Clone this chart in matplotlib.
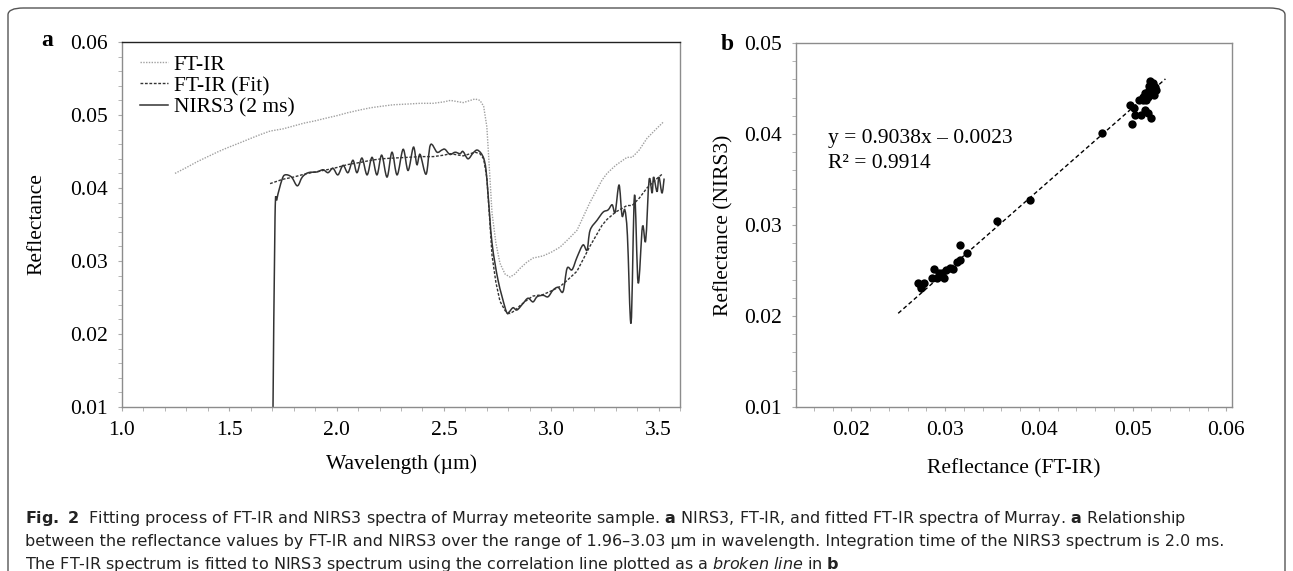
import matplotlib
matplotlib.use("Agg")
import matplotlib.pyplot as plt
from matplotlib.patches import FancyBboxPatch, PathPatch
from matplotlib.path import Path
from matplotlib.ticker import MultipleLocator

plt.rcParams['font.family'] = ['Liberation Serif', 'DejaVu Serif']
plt.rcParams['mathtext.fontset'] = 'dejavusans'

# FT-IR spectrum (wavelength um, reflectance)
ftir_w = [1.247, 1.30, 1.35, 1.40, 1.45, 1.49, 1.55, 1.60, 1.643, 1.69, 1.75, 1.80, 1.85, 1.90,
          1.955, 2.00, 2.05, 2.11, 2.16, 2.21, 2.263, 2.33, 2.39, 2.45, 2.50, 2.53, 2.59, 2.645,
          2.668, 2.685, 2.70, 2.715, 2.724, 2.742, 2.761, 2.785, 2.808, 2.83, 2.855, 2.885, 2.915,
          2.962, 3.00, 3.041, 3.08, 3.12, 3.18, 3.237, 3.26, 3.30, 3.353, 3.377, 3.41, 3.446,
          3.493, 3.521]
ftir_r = [0.0420, 0.0428, 0.0436, 0.0443, 0.0450, 0.0455, 0.0462, 0.0468, 0.0473, 0.0478, 0.0481,
          0.0485, 0.0489, 0.0492, 0.0496, 0.0499, 0.0503, 0.0507, 0.0510, 0.0512, 0.0514, 0.0515,
          0.0516, 0.0516, 0.0518, 0.0520, 0.0517, 0.0522, 0.0520, 0.0512, 0.0484, 0.0411, 0.0366,
          0.0325, 0.0297, 0.0282, 0.0278, 0.0282, 0.0290, 0.0298, 0.0304, 0.0307, 0.0312, 0.0319,
          0.0330, 0.0342, 0.0380, 0.0411, 0.0420, 0.0431, 0.0442, 0.0442, 0.0452, 0.0468, 0.0482,
          0.0490]

# fitted FT-IR spectrum
fit_w = ftir_w[9:]
fit_r = [0.0406, 0.0412, 0.0415, 0.0419, 0.0422, 0.0425, 0.0428, 0.0432, 0.0435, 0.0438, 0.0440,
         0.0441, 0.0442, 0.0443, 0.0443, 0.0445, 0.0447, 0.0444, 0.0449, 0.0447, 0.0440, 0.0414,
         0.0349, 0.0308, 0.0271, 0.0245, 0.0232, 0.0228, 0.0232, 0.0239, 0.0246, 0.0252, 0.0254,
         0.0259, 0.0265, 0.0275, 0.0286, 0.0320, 0.0349, 0.0357, 0.0367, 0.0376, 0.0376, 0.0386,
         0.0400, 0.0413, 0.0420]

# NIRS3 spectrum (2 ms)
nirs_w = [1.703, 1.713, 1.722, 1.745, 1.76, 1.79, 1.817, 1.84, 1.868, 1.909, 1.937, 1.96, 1.983,
          2.006, 2.03, 2.053, 2.076, 2.095, 2.118, 2.142, 2.165, 2.188, 2.21, 2.235, 2.258, 2.282,
          2.310, 2.333, 2.358, 2.374, 2.389, 2.417, 2.437, 2.468, 2.49, 2.505, 2.528, 2.552, 2.575,
          2.589, 2.612, 2.636, 2.654, 2.672, 2.686, 2.696, 2.706, 2.724, 2.752, 2.785, 2.796,
          2.804, 2.822, 2.841, 2.869, 2.892, 2.915, 2.934, 2.962, 2.985, 3.008, 3.032, 3.055,
          3.074, 3.097, 3.12, 3.148, 3.167, 3.181, 3.214, 3.242, 3.265, 3.284, 3.298, 3.316, 3.33,
          3.343, 3.355, 3.372, 3.388, 3.405, 3.425, 3.44, 3.456, 3.47, 3.477, 3.493, 3.502, 3.516,
          3.526]
nirs_r = [0.0080, 0.0360, 0.0385, 0.0411, 0.0418, 0.0415, 0.0403, 0.0415, 0.0421, 0.0422, 0.0425,
          0.0421, 0.0427, 0.0418, 0.0431, 0.0421, 0.0438, 0.0421, 0.0441, 0.0418, 0.0442, 0.0418,
          0.0445, 0.0415, 0.0449, 0.0418, 0.0453, 0.0424, 0.0456, 0.0432, 0.0446, 0.0419, 0.0459,
          0.0449, 0.0452, 0.0453, 0.0446, 0.0449, 0.0447, 0.0450, 0.0440, 0.0448, 0.0452, 0.0448,
          0.0440, 0.0425, 0.0390, 0.0325, 0.0274, 0.0236, 0.0228, 0.0230, 0.0236, 0.0233, 0.0242,
          0.0249, 0.0244, 0.0251, 0.0253, 0.0251, 0.0260, 0.0264, 0.0258, 0.0290, 0.0288, 0.0305,
          0.0322, 0.0315, 0.0342, 0.0356, 0.0367, 0.0370, 0.0377, 0.0367, 0.0404, 0.0362, 0.0370,
          0.0335, 0.0215, 0.0390, 0.0270, 0.0347, 0.0328, 0.0411, 0.0393, 0.0415, 0.0395, 0.0415,
          0.0393, 0.0413]

# correlation FT-IR vs NIRS3 (1.96-3.03 um)
corr_x = [0.02708, 0.02772, 0.02747, 0.02740, 0.02861, 0.02914, 0.02886, 0.02986, 0.02968, 0.02930,
          0.03014, 0.03057, 0.03085, 0.03128, 0.03163, 0.03163, 0.03235, 0.0355, 0.0391, 0.0467,
          0.0499, 0.0497, 0.0501, 0.0503, 0.0507, 0.0511, 0.0509, 0.0513, 0.0516, 0.0519, 0.0521,
          0.0517, 0.0523, 0.0520, 0.0514, 0.0525, 0.0513, 0.0522, 0.0516, 0.0519, 0.0524, 0.0518,
          0.0511]
corr_y = [0.02359, 0.02359, 0.02304, 0.02330, 0.02414, 0.02414, 0.02513, 0.02414, 0.02476, 0.02470,
          0.02505, 0.02524, 0.02513, 0.02597, 0.02615, 0.02780, 0.02696, 0.0304, 0.0328, 0.0401,
          0.0411, 0.0432, 0.0429, 0.0421, 0.0437, 0.0437, 0.0421, 0.0426, 0.0423, 0.0458, 0.0452,
          0.0448, 0.0443, 0.0418, 0.0437, 0.0448, 0.0445, 0.0456, 0.0441, 0.0446, 0.0452, 0.0453,
          0.0441]
slope = 0.9038
intercept = -0.0023
line_x = [0.0250, 0.0535]


def smooth_path(xs, ys):
    # smoothed line through the points (like a spreadsheet "smoothed line")
    pts = list(zip(xs, ys))
    n = len(pts)
    verts = [pts[0]]
    codes = [Path.MOVETO]
    for i in range(n - 1):
        p0 = pts[i - 1] if i > 0 else pts[i]
        p1 = pts[i]
        p2 = pts[i + 1]
        p3 = pts[i + 2] if i + 2 < n else pts[i + 1]
        c1 = (p1[0] + (p2[0] - p0[0]) / 6, p1[1] + (p2[1] - p0[1]) / 6)
        c2 = (p2[0] - (p3[0] - p1[0]) / 6, p2[1] - (p3[1] - p1[1]) / 6)
        verts += [c1, c2, p2]
        codes += [Path.CURVE4] * 3
    return Path(verts, codes)


fig = plt.figure(figsize=(12.93, 5.71), dpi=100)

# rounded frame of the figure
frame = FancyBboxPatch((8 / 1293, -0.05), 1277 / 1293, 1.05 - 8 / 571,
                       boxstyle="round,pad=0,rounding_size=0.012", transform=fig.transFigure,
                       facecolor='none', edgecolor='#555555', lw=1.0)
fig.patches.append(frame)


def style_axes(ax):
    for s in ax.spines.values():
        s.set_color('#8c8c8c')
        s.set_linewidth(1.0)
    ax.tick_params(which='both', direction='out', color='#aaaaaa', labelsize=15.5)
    ax.tick_params(which='major', length=3, pad=7)
    ax.tick_params(which='minor', length=3)


# panel a
ax1 = fig.add_axes([122 / 1293, 1 - 407 / 571, 558 / 1293, 365 / 571])
ax1.plot(ftir_w, ftir_r, color='#a0a0a0', lw=1.0, ls=(0, (1, 1)), label='FT-IR')
ax1.plot(fit_w, fit_r, color='#333333', lw=1.0, ls=(0, (2, 1.2)), label='FT-IR (Fit)')
ax1.add_patch(PathPatch(smooth_path(nirs_w, nirs_r), fill=False, edgecolor='#333333', lw=1.1))
ax1.plot([], [], color='#333333', lw=1.1, label='NIRS3 (2 ms)')
ax1.set_xlim(1.0, 3.6)
ax1.set_ylim(0.01, 0.06)
ax1.set_xticks([1.0, 1.5, 2.0, 2.5, 3.0, 3.5])
ax1.set_yticks([0.01, 0.02, 0.03, 0.04, 0.05, 0.06])
ax1.xaxis.set_minor_locator(MultipleLocator(0.1))
ax1.yaxis.set_minor_locator(MultipleLocator(0.002))
ax1.xaxis.set_major_formatter(plt.FormatStrFormatter('%.1f'))
ax1.yaxis.set_major_formatter(plt.FormatStrFormatter('%.2f'))
style_axes(ax1)
ax1.spines['top'].set_color('#222222')
ax1.set_xlabel('Wavelength (\u00b5m)', fontsize=15.5, labelpad=10)
ax1.set_ylabel('Reflectance', fontsize=15.5, labelpad=17)
ax1.legend(loc='upper left', bbox_to_anchor=(0.033, 0.965), frameon=False, fontsize=15.5,
           handlelength=1.3, handletextpad=0.25, labelspacing=0.05, borderpad=0, borderaxespad=0)
fig.text(47 / 1293, 1 - 40 / 571, 'a', fontsize=17, fontweight='bold', ha='center', va='center')

# panel b
ax2 = fig.add_axes([796 / 1293, 1 - 407 / 571, 436 / 1293, 364 / 571])
ax2.scatter(corr_x, corr_y, s=36, color='black', zorder=3, linewidths=0)
ax2.plot(line_x, [slope * v + intercept for v in line_x], color='black', lw=1.0,
         ls=(0, (3, 2)), zorder=2)
ax2.set_xlim(0.0141, 0.0606)
ax2.set_ylim(0.01, 0.05)
ax2.set_xticks([0.02, 0.03, 0.04, 0.05, 0.06])
ax2.set_yticks([0.01, 0.02, 0.03, 0.04, 0.05])
ax2.xaxis.set_minor_locator(MultipleLocator(0.002))
ax2.yaxis.set_minor_locator(MultipleLocator(0.002))
ax2.xaxis.set_major_formatter(plt.FormatStrFormatter('%.2f'))
ax2.yaxis.set_major_formatter(plt.FormatStrFormatter('%.2f'))
style_axes(ax2)
ax2.set_xlabel('Reflectance (FT-IR)', fontsize=15.5, labelpad=14)
ax2.set_ylabel('Reflectance (NIRS3)', fontsize=15.5, labelpad=8)
ax2.text(0.01755, 0.03956, 'y = 0.9038x \u2013 0.0023', fontsize=15.5, va='center')
ax2.text(0.01755, 0.03681, 'R\u00b2 = 0.9914', fontsize=15.5, va='center')
fig.text(727 / 1293, 1 - 44 / 571, 'b', fontsize=17, fontweight='bold', ha='center', va='center')

# caption
cap = [r"$\mathbf{Fig.\ 2}$  Fitting process of FT-IR and NIRS3 spectra of Murray meteorite sample. "
       r"$\mathbf{a}$ NIRS3, FT-IR, and fitted FT-IR spectra of Murray. $\mathbf{a}$ Relationship",
       "between the reflectance values by FT-IR and NIRS3 over the range of 1.96\u20133.03 \u00b5m in "
       "wavelength. Integration time of the NIRS3 spectrum is 2.0 ms.",
       r"The FT-IR spectrum is fitted to NIRS3 spectrum using the correlation line plotted as a "
       r"$\mathit{broken\ line}$ in $\mathbf{b}$"]
for i, line in enumerate(cap):
    fig.text(25 / 1293, 1 - (519 + 22.5 * i) / 571, line, fontsize=11.5, va='center', ha='left',
             family='DejaVu Sans', color='#222222')

fig.savefig('out.png', dpi=100)
